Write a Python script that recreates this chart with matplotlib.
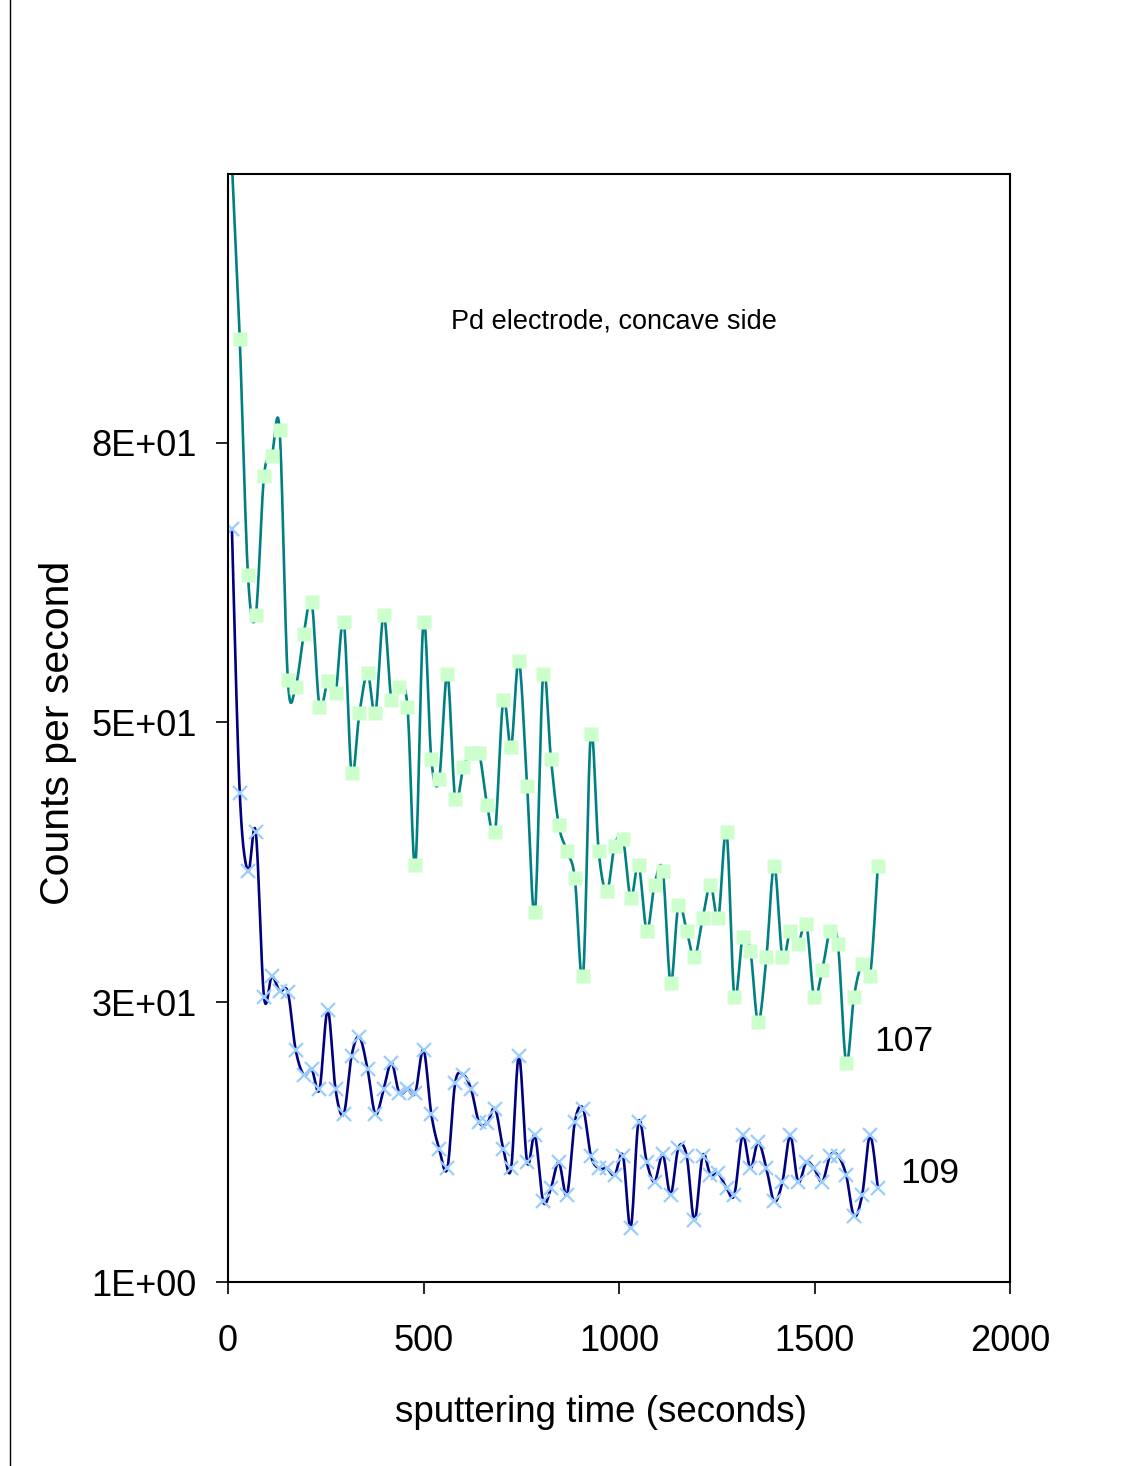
import numpy as np
import matplotlib
matplotlib.use("Agg")
import matplotlib.pyplot as plt
from matplotlib.lines import Line2D

plt.rcParams['font.family'] = ['Liberation Sans', 'DejaVu Sans']

# sampling times (s)
time_s = [10, 30, 51, 71, 92, 112, 132, 153, 173, 194,
          214, 234, 255, 275, 296, 316, 336, 357, 377, 398,
          418, 438, 459, 479, 500, 520, 540, 561, 581, 602,
          622, 642, 663, 683, 704, 724, 744, 765, 785, 806,
          826, 846, 867, 887, 908, 928, 948, 969, 989, 1010,
          1030, 1050, 1071, 1091, 1112, 1132, 1152, 1173, 1193, 1214,
          1234, 1254, 1275, 1295, 1316, 1336, 1356, 1377, 1397, 1418,
          1438, 1458, 1479, 1499, 1520, 1540, 1560, 1581, 1601, 1622,
          1642, 1662]

# mass 107
counts_107 = [101, 85.3, 64.2, 60.6, 73.0, 74.8, 77.1, 54.8, 54.2, 58.9,
              61.8, 52.4, 54.7, 53.6, 60.0, 46.5, 51.8, 55.4, 51.8, 60.6,
              53.0, 54.2, 52.4, 38.3, 60.0, 47.7, 45.9, 55.3, 44.2, 47.0,
              48.3, 48.3, 43.6, 41.2, 53.0, 48.8, 56.5, 45.3, 34.1, 55.3,
              47.7, 41.8, 39.5, 37.1, 28.3, 50.0, 39.5, 35.9, 40.0, 40.6,
              35.3, 38.3, 32.4, 36.5, 37.7, 27.7, 34.7, 32.4, 30.0, 33.5,
              36.5, 33.5, 41.2, 26.5, 31.8, 30.6, 24.2, 30.0, 38.2, 30.0,
              32.4, 31.2, 33.0, 26.5, 28.9, 32.4, 31.2, 20.6, 26.5, 29.4,
              28.3, 38.2]

# mass 109
counts_109 = [68.3, 44.7, 37.7, 41.2, 26.5, 28.3, 27.0, 26.9, 21.75, 19.5,
              20.0, 18.2, 25.3, 18.2, 16.0, 21.2, 22.9, 20.0, 16.0, 18.2,
              20.6, 17.9, 18.2, 17.9, 21.75, 16.0, 12.9, 11.15, 18.8, 19.5,
              18.2, 15.3, 15.2, 16.5, 12.9, 11.15, 21.2, 11.7, 14.1, 8.2,
              9.4, 11.7, 8.8, 15.3, 16.5, 12.3, 11.15, 11.15, 10.55, 12.3,
              5.85, 15.3, 11.7, 9.96, 12.4, 8.8, 13.0, 12.3, 6.5, 12.3,
              10.55, 10.7, 9.4, 8.8, 14.1, 11.15, 13.5, 11.15, 8.2, 9.96,
              14.1, 9.96, 11.7, 11.15, 9.96, 12.3, 12.3, 10.55, 6.9, 8.8,
              14.1, 9.4]

y_ticks = [1, 26, 51, 76]
y_tick_labels = ["1E+00", "3E+01", "5E+01", "8E+01"]
x_ticks = [0, 500, 1000, 1500, 2000]


def smooth_line(x, y, steps=16):
    # excel style smoothed line: uniform catmull-rom through every point
    px = np.asarray(x, float)
    py = np.asarray(y, float)
    px = np.concatenate([[px[0]], px, [px[-1]]])
    py = np.concatenate([[py[0]], py, [py[-1]]])
    t = np.linspace(0, 1, steps, endpoint=False)[:, None]

    def seg(p):
        p0, p1, p2, p3 = p[:-3], p[1:-2], p[2:-1], p[3:]
        out = 0.5 * (2 * p1 + (p2 - p0) * t
                     + (2 * p0 - 5 * p1 + 4 * p2 - p3) * t ** 2
                     + (3 * p1 - p0 - 3 * p2 + p3) * t ** 3)
        return np.concatenate([out.T.ravel(), [p[-2]]])

    return seg(px), seg(py)


fig = plt.figure(figsize=(11.35, 14.66), dpi=100)
ax = fig.add_axes([228 / 1135, 184 / 1466, 782 / 1135, 1108 / 1466])

sx, sy = smooth_line(time_s, counts_107)
ax.plot(sx, sy, color='#008080', lw=1.9)
ax.plot(time_s, counts_107, ls='none', marker='s', ms=9.5, mfc='#CCFFCC', mec='none')

sx, sy = smooth_line(time_s, counts_109)
ax.plot(sx, sy, color='#000080', lw=1.9)
ax.plot(time_s, counts_109, ls='none', marker='x', ms=9.5, mec='#99CCFF', mew=1.6)

ax.set_xlim(0, 2000)
ax.set_ylim(1, 100)
ax.set_xticks(x_ticks)
ax.set_yticks(y_ticks)
ax.set_yticklabels(y_tick_labels)
ax.tick_params(direction='out', length=8.5, width=1.2, labelsize=26)
ax.tick_params(axis='y', pad=14)
ax.tick_params(axis='x', pad=22)
for sp in ax.spines.values():
    sp.set_linewidth(1.5)

ax.set_xlabel("sputtering time (seconds)", fontsize=26.5)
ax.xaxis.set_label_coords((601 - 228) / 782, (1282 - 1413) / 1108)
ax.xaxis.label.set_va('center')
ax.set_ylabel("Counts per second", fontsize=29.5)
ax.yaxis.set_label_coords((58 - 228) / 782, (1282 - 733) / 1108)
ax.yaxis.label.set_va('center')

ax.text(986, 86.8, "Pd electrode, concave side", fontsize=19.5, ha='center', va='center')
ax.text(1729, 22.5, "107", fontsize=25.5, ha='center', va='center', clip_on=False)
ax.text(1795, 10.7, "109", fontsize=25.5, ha='center', va='center', clip_on=False)

# thin border line on the far left
fig.add_artist(Line2D([10 / 1135, 10 / 1135], [0, 1], color='black', lw=1))

fig.savefig("out.png", dpi=100)
